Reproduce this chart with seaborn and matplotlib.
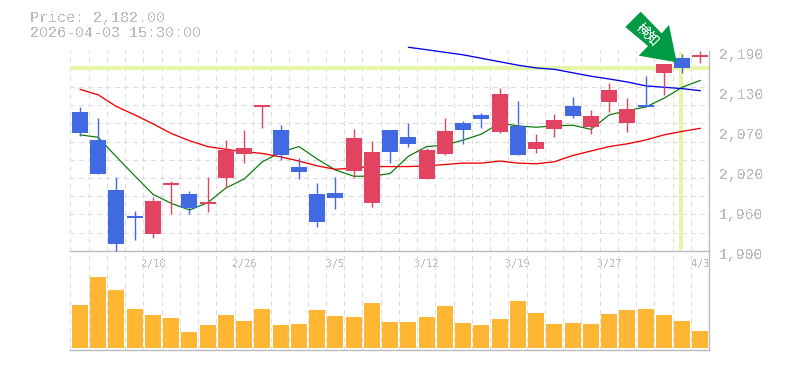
import numpy as np
import matplotlib
matplotlib.use("Agg")
import matplotlib.pyplot as plt
from matplotlib.patches import Polygon
from matplotlib.transforms import ScaledTranslation
import seaborn as sns

dates = ["2/18", "2/26", "3/5", "3/12", "3/19", "3/27", "4/3"]
date_pos = [4, 9, 14, 19, 24, 29, 34]
price_labels = ["1,900", "1,960", "2,020", "2,070", "2,130", "2,190"]
price_ticks = [1900, 1958, 2016, 2074, 2132, 2190]

opens = [2101, 2060.5, 1988, 1950.3, 1924.6, 1995.3, 1982, 1967.7, 2005.4, 2040, 2108, 2075,
         2021, 1982, 1983.6, 2015.5, 1969, 2075, 2065, 2004, 2040, 2085, 2097, 2072, 2081,
         2047, 2076.5, 2110, 2079, 2116, 2085, 2111, 2158, 2179, 2181]
closes = [2071, 2011.6, 1910, 1947.4, 1972, 1998, 1962, 1970.6, 2046, 2049, 2111, 2039,
          2014, 1941.6, 1976.4, 2063.4, 2043, 2043, 2055, 2046, 2073.6, 2075, 2091, 2127, 2039,
          2058, 2089.5, 2095, 2095, 2133, 2105.5, 2108, 2171, 2165, 2184]
highs = [2108, 2092.4, 2007, 1957.5, 1977.9, 2001, 1986.5, 2007, 2060.5, 2075, 2111, 2082,
         2034, 1998, 2007, 2076.5, 2059, 2075, 2085, 2049, 2092.4, 2088, 2100, 2136, 2117,
         2069, 2098, 2123, 2104, 2143, 2121.4, 2153, 2171, 2185, 2190]
lows = [2067, 2011.6, 1900, 1915.5, 1918.4, 1953.2, 1953, 1956, 1991, 2027, 2078, 2031.5,
        2004, 1934.4, 1960.4, 2005.4, 1963.4, 2027, 2050.4, 2004, 2039, 2055, 2078, 2070.6, 2039,
        2042, 2065, 2092.4, 2069, 2101, 2072, 2108, 2126, 2158, 2172]
ma_short = [2068, 2064.4, 2036, 2008.7, 1981.8, 1968.7, 1959, 1969.6, 1991, 2004, 2029, 2042.7,
            2051, 2033, 2017, 2008, 2008, 2012, 2037, 2051, 2053, 2060.5, 2069, 2085, 2081,
            2079, 2081, 2082, 2076, 2097, 2103, 2108.4, 2121, 2137, 2147]
ma_mid = [2134, 2126, 2109, 2097, 2084, 2070, 2059.5, 2051, 2047, 2043.5, 2041, 2036,
          2030, 2023, 2018, 2020, 2022, 2022, 2022, 2023, 2025, 2027, 2027, 2030, 2027,
          2026, 2029, 2038, 2044.5, 2051, 2055, 2060.5, 2068, 2073, 2077.5]
ma_long = [2195, 2191.4, 2187.7, 2184, 2179, 2174, 2169, 2165, 2163, 2158, 2153, 2149,
           2144.6, 2139, 2137, 2135, 2132]
volume = [433, 713, 583, 393, 333, 303, 163, 233, 333, 273, 393, 233, 243, 383, 323, 313, 453, 263,
          263, 313, 423, 253, 233, 293, 473, 353, 243, 253, 243, 343, 383, 393, 333, 273, 173]
level_price = 2165.6
marker_index = 33

BLUE, RED, ORANGE, BAND, GREY, GRID = "#4169E1", "#E24360", "#FFB733", "#E6F6A8", "#BBBBBB", "#DDDDDD"
W, H = 785, 370

sns.set_style("white")
plt.rcParams["font.family"] = ["Liberation Mono", "DejaVu Sans Mono"]
plt.rcParams["text.antialiased"] = False

fig = plt.figure(figsize=(W / 100, H / 100), dpi=100, facecolor="white")
L, R = 70.3, 709.0
T1, B1, B2 = 50.7, 250.7, 350.3
ax = fig.add_axes([L / W, 1 - B1 / H, (R - L) / W, (B1 - T1) / H])
axv = fig.add_axes([L / W, 1 - B2 / H, (R - L) / W, (B2 - B1) / H])

idx = np.arange(len(opens))
xlim = (-0.53, 34.47)
opens_a, closes_a = np.array(opens), np.array(closes)
up = closes_a >= opens_a

grid_kw = dict(color=GRID, lw=0.72, ls=(0, (4.2, 4.2)), antialiased=False)
for a in (ax, axv):
    a.set_facecolor("none")
    a.set_axisbelow(True)
    a.set_xticks(np.arange(xlim[0], xlim[1] + 0.01), minor=True)
    a.grid(True, which="minor", axis="x", **grid_kw)
    a.grid(False, which="major")
    for s in ("top", "left"):
        a.spines[s].set_visible(False)
    for s in ("bottom", "right"):
        a.spines[s].set_color(GREY)
        a.spines[s].set_linewidth(1.0)
    a.tick_params(which="both", length=0)

ax.set_yticks(np.linspace(1900, 2190, 12), minor=True)
ax.grid(True, which="minor", axis="y", **grid_kw)

# level bands
ax.axhline(level_price, color=BAND, lw=2.9, zorder=1.5)
ax.plot([marker_index - 0.07] * 2, [1901.5, 2188], color=BAND, lw=2.9, zorder=1.5, solid_capstyle="butt")

# moving averages
line_kw = dict(ax=ax, zorder=2, errorbar=None)
sns.lineplot(x=idx, y=ma_short, color="#007700", lw=0.85, **line_kw)
sns.lineplot(x=idx, y=ma_mid, color="#EE0000", lw=0.95, **line_kw)
sns.lineplot(x=idx[18:], y=ma_long, color="#0000EE", lw=0.95, clip_on=False, **line_kw)

# candles
wick_colors = [RED if u else BLUE for u in up]
ax.vlines(idx, lows, highs, colors=wick_colors, lw=1.0, zorder=3, clip_on=False)
ax.bar(idx, np.abs(closes_a - opens_a), bottom=np.minimum(opens_a, closes_a), width=0.88,
       color=wick_colors, zorder=3, antialiased=False, linewidth=0)

ax.set_xlim(xlim)
ax.set_ylim(1900, 2190)
ax.set_xticks(date_pos)
ax.set_xticklabels(dates, fontsize=7.3, color=GREY, family="DejaVu Sans Mono")
ax.tick_params(axis="x", pad=6)
ax.set_yticks(price_ticks)
ax.set_yticklabels(price_labels, fontsize=10.6, color=GREY)
ax.yaxis.tick_right()
ax.tick_params(axis="y", which="both", length=0, pad=7.5)
shift = ScaledTranslation(0, -2.5 / 100, fig.dpi_scale_trans)
for t in ax.get_yticklabels():
    t.set_transform(t.get_transform() + shift)

# volume
sns.barplot(x=idx, y=volume, ax=axv, native_scale=True, color=ORANGE, width=0.88,
            saturation=1, zorder=3, linewidth=0, antialiased=False, errorbar=None)
axv.set_xlim(xlim)
axv.set_ylim(-20, 976)
axv.set_xticks([])
axv.set_yticks([])
axv.set_xlabel("")
axv.set_ylabel("")

# header
fig.text(30 / W, 1 - 18 / H, "Price: 2,182.00", fontsize=10.8, color=GREY, va="center", ha="left")
fig.text(30 / W, 1 - 33 / H, "2026-04-03 15:30:00", fontsize=10.8, color=GREY, va="center", ha="left")

# signal arrow
pts = [(640.7, 11.7), (661.7, 33.3), (669, 25), (676.7, 62.3), (638.7, 55.7), (648, 46), (625.3, 27)]
fig.add_artist(Polygon([(x / W, 1 - y / H) for x, y in pts], closed=True, transform=fig.transFigure,
                       facecolor="#009944", edgecolor="none", zorder=10))
fig.text(647.5 / W, 1 - 34.5 / H, "検知", fontsize=9.5, color="white", rotation=-45,
         rotation_mode="anchor", ha="center", va="center", family=["Noto Sans CJK JP", "DejaVu Sans"], zorder=11)

fig.savefig("out.png", dpi=100)
